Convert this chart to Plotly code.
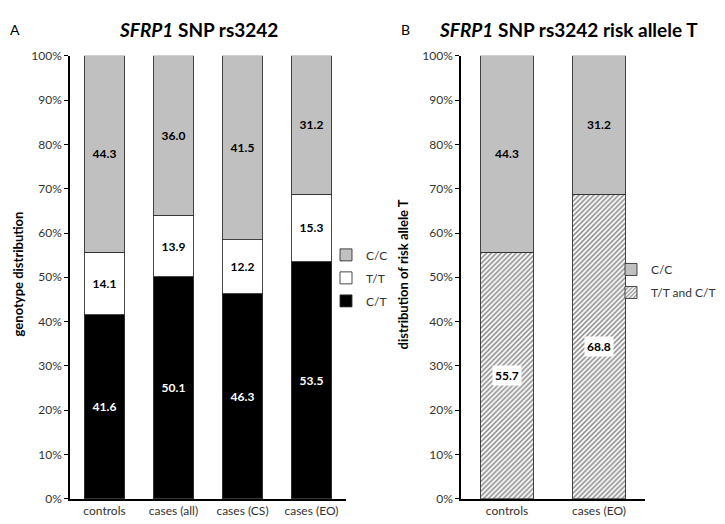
import plotly.graph_objects as go

# ---- data ----
categories_a = ["controls", "cases (all)", "cases (CS)", "cases (EO)"]
ct_a = [41.6, 50.1, 46.3, 53.5]
tt_a = [14.1, 13.9, 12.2, 15.3]
cc_a = [44.3, 36.0, 41.5, 31.2]

categories_b = ["controls", "cases (EO)"]
risk_b = [55.7, 68.8]
cc_b = [44.3, 31.2]

yticks = list(range(0, 101, 10))

FONT = "Lato"
W, H = 725, 524
GRAY = "#c0c0c0"
OUT = dict(color="#333333", width=0.9)

fig = go.Figure()

def bar(name, x, y, color, tcolor, xa, ya, legend, rank, pattern=None, text=True):
    marker = dict(color=color, line=OUT)
    if pattern:
        marker["pattern"] = pattern
    fig.add_trace(go.Bar(
        name=name, x=x, y=y, xaxis=xa, yaxis=ya, legend=legend,
        legendgroup=f"{legend}-{name}", legendrank=rank,
        marker=marker,
        texttemplate="<b>%{y:.1f}</b>" if text else None,
        textposition="inside" if text else "none",
        insidetextanchor="middle", textangle=0,
        textfont=dict(family=FONT, size=12, color=tcolor),
        hoverinfo="skip",
    ))

bar("C/T", categories_a, ct_a, "#000000", "white", "x", "y", "legend", 3)
bar("T/T", categories_a, tt_a, "#ffffff", "black", "x", "y", "legend", 2)
bar("C/C", categories_a, cc_a, GRAY, "black", "x", "y", "legend", 1)

bar("T/T and C/T", categories_b, risk_b, "#ffffff", "black", "x2", "y2", "legend2", 2,
    pattern=dict(shape="/", fgcolor="#000000", bgcolor="#ffffff", size=3.5, solidity=0.42),
    text=False)
bar("C/C", categories_b, cc_b, GRAY, "black", "x2", "y2", "legend2", 1)

def px(x):
    return x / W

def py(y):
    return 1 - y / H

ydom = [py(497), py(41)]
yax = dict(range=[0, 100], tickvals=yticks, ticktext=[f"{v}%" for v in yticks],
           ticks="outside", ticklen=4, tickcolor="black", showline=True, linecolor="black",
           linewidth=1.5, showgrid=False, zeroline=False,
           tickfont=dict(family=FONT, size=12, color="#333"))
xax = dict(showline=True, linecolor="black", linewidth=1.5, ticks="", showgrid=False,
           tickfont=dict(family=FONT, size=12, color="#333"))

leg = dict(xanchor="left", yanchor="top", traceorder="grouped", tracegroupgap=4,
           font=dict(family=FONT, size=12, color="#333"), bgcolor="rgba(0,0,0,0)",
           itemclick=False, itemdoubleclick=False)

fig.update_layout(
    width=W, height=H, margin=dict(l=0, r=0, t=0, b=0),
    paper_bgcolor="white", plot_bgcolor="white",
    barmode="stack", bargap=0.42,
    showlegend=True,
    xaxis=dict(domain=[px(62), px(338)], anchor="y", **xax),
    yaxis=dict(domain=ydom, anchor="x", **yax),
    xaxis2=dict(domain=[px(453), px(637)], anchor="y2", **xax),
    yaxis2=dict(domain=ydom, anchor="x2", **yax),
    legend=dict(x=px(318), y=py(231), **leg),
    legend2=dict(x=px(603), y=py(246), **leg),
    font=dict(family=FONT),
)

ann = []
def note(text, x, y, size, **kw):
    ann.append(dict(text=text, x=px(x), y=py(y), xref="paper", yref="paper", showarrow=False,
                    xanchor="center", yanchor="middle",
                    font=dict(family=FONT, size=size, color="black"), **kw))

note("A", 7, 14, 14)
note("<b><i>SFRP1</i> SNP rs3242</b>", 190, 14, 19)
note("B", 397, 14, 14)
note("<b><i>SFRP1</i> SNP rs3242 risk allele T</b>", 560, 14, 19)
note("<b>genotype distribution</b>", 10, 266, 13, textangle=-90)
note("<b>distribution of risk allele T</b>", 395, 266, 13, textangle=-90)

for c, v in zip(categories_b, risk_b):
    ann.append(dict(text=f"<b>{v:.1f}</b>", x=c, y=v / 2, xref="x2", yref="y2", showarrow=False,
                    bgcolor="white", borderpad=2, font=dict(family=FONT, size=12, color="black")))
fig.update_layout(annotations=ann)

fig.write_html("out.html")
